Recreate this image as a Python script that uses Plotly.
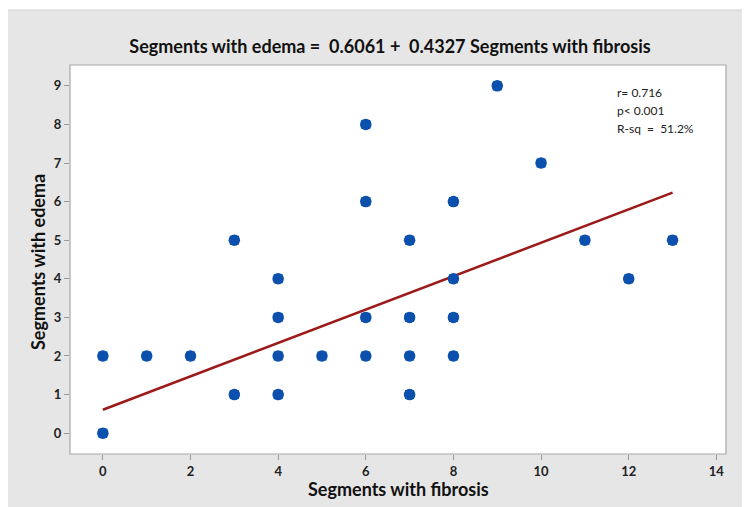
import plotly.graph_objects as go

# Data
fibrosis = [0, 0, 1, 2, 3, 3, 4, 4, 4, 4, 5, 6, 6, 6, 6, 7, 7, 7, 7, 8, 8, 8, 8, 9, 10, 11, 12, 13]
edema    = [0, 2, 2, 2, 5, 1, 4, 3, 2, 1, 2, 8, 6, 3, 2, 5, 3, 2, 1, 6, 4, 3, 2, 9, 7, 5, 4, 5]
intercept = 0.6061
slope = 0.4327
fit_x = [0, 13]
fit_y = [intercept + slope * v for v in fit_x]
x_ticks = [0, 2, 4, 6, 8, 10, 12, 14]
y_ticks = [0, 1, 2, 3, 4, 5, 6, 7, 8, 9]

# page has an 8px body margin; figure sized to fit the window
OFF = 8
W, H = 750 - OFF, 507 - OFF
ml, mr, mt, mb = 70 - OFF, 24, 65 - OFF, 53
pw = W - ml - mr
ph = H - mt - mb

def px2x(px):
    return (px - OFF - ml) / pw

def py2y(py):
    return (H - mb - (py - OFF)) / ph

FONT = "Lato"
BLUE = "#0b50ad"

fig = go.Figure()
fig.add_trace(go.Scatter(
    x=fit_x, y=fit_y, mode="lines",
    line=dict(color="#9c1a1a", width=2.5),
    hoverinfo="skip", showlegend=False,
))
# rounded-square markers: a square core plus a slightly larger circle
fig.add_trace(go.Scatter(
    x=fibrosis, y=edema, mode="markers",
    marker=dict(symbol="square", size=9, color=BLUE, line=dict(width=0)),
    hoverinfo="skip", showlegend=False,
))
fig.add_trace(go.Scatter(
    x=fibrosis, y=edema, mode="markers",
    marker=dict(symbol="circle", size=11.5, color=BLUE, line=dict(width=0)),
    showlegend=False,
))

shapes = [
    dict(type="rect", xref="paper", yref="paper", layer="below",
         x0=px2x(5), x1=px2x(760), y0=py2y(520), y1=py2y(10),
         fillcolor="#e6e6e6", line=dict(color="#d0d0d0", width=1)),
    dict(type="rect", xref="paper", yref="paper", layer="below",
         x0=0, x1=1, y0=0, y1=1,
         fillcolor="white", line=dict(color="#a8a8a8", width=1.2)),
]

annotations = [
    dict(xref="paper", yref="paper", x=px2x(615), y=py2y(92), xanchor="left", yanchor="middle",
         text="r= 0.716", showarrow=False, font=dict(family=FONT, size=12, color="#222")),
    dict(xref="paper", yref="paper", x=px2x(615), y=py2y(110), xanchor="left", yanchor="middle",
         text="p< 0.001", showarrow=False, font=dict(family=FONT, size=12, color="#222")),
    dict(xref="paper", yref="paper", x=px2x(615), y=py2y(128), xanchor="left", yanchor="middle",
         text="R-sq  =  51.2%", showarrow=False, font=dict(family=FONT, size=12, color="#222")),
    dict(xref="paper", yref="paper", x=px2x(398), y=py2y(489), xanchor="center", yanchor="middle",
         text="<b>Segments with fibrosis</b>", showarrow=False,
         font=dict(family=FONT, size=18, color="#111")),
    dict(xref="paper", yref="paper", x=px2x(38), y=py2y(262), xanchor="center", yanchor="middle",
         text="<b>Segments with edema</b>", showarrow=False, textangle=-90,
         font=dict(family=FONT, size=18, color="#111")),
]

fig.update_layout(
    width=W, height=H,
    margin=dict(l=ml, r=mr, t=mt, b=mb, autoexpand=False),
    paper_bgcolor="white",
    plot_bgcolor="rgba(0,0,0,0)",
    shapes=shapes,
    annotations=annotations,
    title=dict(text="<b>Segments with edema =  0.6061 +  0.4327 Segments with fibrosis</b>",
               x=px2x(390), xref="paper", xanchor="center",
               y=1 - (47 - OFF) / H, yref="container", yanchor="middle",
               font=dict(family=FONT, size=18, color="#111")),
    xaxis=dict(range=[-0.75, 14.22], tickvals=x_ticks, showgrid=False, zeroline=False,
               automargin=False,
               ticks="outside", ticklen=5, tickcolor="#999",
               tickfont=dict(family=FONT, size=13, color="#222", weight="bold")),
    yaxis=dict(range=[-0.54, 9.54], tickvals=y_ticks, showgrid=False, zeroline=False,
               automargin=False,
               ticks="outside", ticklen=5, tickcolor="#999",
               tickfont=dict(family=FONT, size=13, color="#222", weight="bold")),
)

fig.write_html("out.html")
